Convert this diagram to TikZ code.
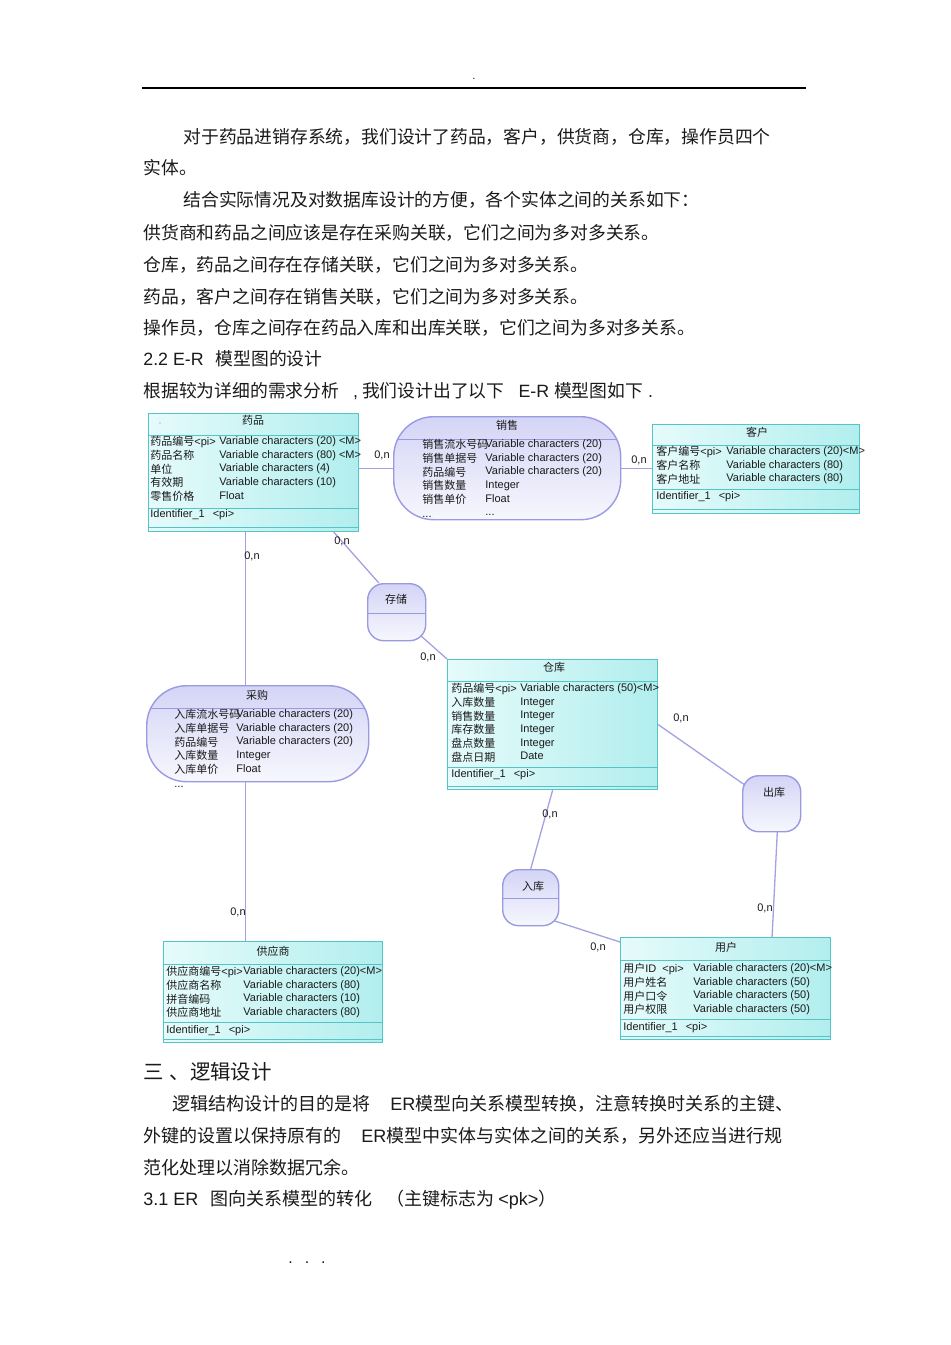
\documentclass[tikz,border=0pt]{standalone}
\usepackage{fontspec}
\setmainfont{Liberation Sans}
\newfontfamily\cjk{Noto Sans CJK SC}
\newcommand{\zht}[1]{{\cjk #1}}
\usetikzlibrary{calc}
\pgfdeclarelayer{bg}
\pgfsetlayers{bg,main}
\definecolor{entB}{HTML}{55C4C4}
\definecolor{entL}{HTML}{E6FBFB}
\definecolor{entD}{HTML}{B2EEEE}
\definecolor{relB}{HTML}{9A9AE2}
\definecolor{relL}{HTML}{D4D4F6}
\definecolor{relD}{HTML}{F7F7FE}
\definecolor{lnk}{HTML}{A2A2E2}
\definecolor{txt}{HTML}{1A1A1A}
\tikzset{
  ent/.style={draw=entB, line width=0.6pt, left color=entL, right color=entD, anchor=north west, inner sep=0},
  rel/.style={draw=relB, line width=0.7pt, top color=relL, bottom color=relD, rounded corners=20pt, anchor=north west, inner sep=0},
  rels/.style={rel, rounded corners=8pt},
  entline/.style={draw=entB, line width=0.5pt},
  relline/.style={draw=relB, line width=0.5pt},
  attr/.style={anchor=north west, inner sep=0, align=left, text=txt, font=\fontsize{5.5}{6.85}\selectfont},
  idf/.style={anchor=west, inner sep=0, text=txt, font=\fontsize{5.5}{6.6}\selectfont},
  ttl/.style={inner sep=0, text=txt, font=\cjk\fontsize{5.5}{6.6}\selectfont},
  card/.style={inner sep=0, text=txt, font=\fontsize{5.5}{6.6}\selectfont},
  lnkline/.style={draw=lnk, line width=0.65pt},
  body/.style={anchor=west, inner sep=0, text=txt, font=\cjk\fontsize{8.9}{10}\selectfont},
  lbody/.style={anchor=west, inner sep=0, text=txt, font=\fontsize{8.9}{10}\selectfont},
}
\begin{document}
\begin{tikzpicture}[x=0.5pt,y=-0.5pt]
\useasboundingbox (0,0) rectangle (950,1345);

% header rule
\coordinate (hl) at (142,88);
\coordinate (hr) at (806,88);
\draw[black, line width=0.55pt] (hl) -- (hr);
\node[card] (hdot) at (474,79) {.};

% body text top
\node[body] (t1) at (183,137) {对于药品进销存系统，我们设计了药品，客户，供货商，仓库，操作员四个};
\node[body] (t2) at (143,168) {实体。};
\node[body] (t3) at (183,200) {结合实际情况及对数据库设计的方便，各个实体之间的关系如下：};
\node[body] (t4) at (143,233) {供货商和药品之间应该是存在采购关联，它们之间为多对多关系。};
\node[body] (t5) at (143,265) {仓库，药品之间存在存储关联，它们之间为多对多关系。};
\node[body] (t6) at (143,297) {药品，客户之间存在销售关联，它们之间为多对多关系。};
\node[body] (t7) at (143,328) {操作员，仓库之间存在药品入库和出库关联，它们之间为多对多关系。};
\node[lbody] (t8) at (143,359) {2.2 E-R\hspace{6pt}\zht{模型图的设计}};
\node[lbody] (t9) at (143,391) {\zht{根据较为详细的需求分析}\hspace{7pt},\hspace{2pt}\zht{我们设计出了以下}\hspace{7pt}E-R \zht{模型图如下} .};

% ===== entities and relationships =====
% 药品
\node[ent, minimum width=105pt, minimum height=59pt] (yp) at (148,413) {};
\fill[relB!70] (160,423) circle (0.45pt);
\node[ttl] (ypt) at (253,420) {药品};
\draw[entline] (148,435) -- (358,435);
\draw[entline] (148,508) -- (358,508);
\draw[entline] (148,527) -- (358,527);
\node[attr] (ypn) at (150,436) {\zht{药品编号}<pi>\\\zht{药品名称}\\\zht{单位}\\\zht{有效期}\\\zht{零售价格}};
\node[attr] (ypy) at (219,436) {Variable characters (20) <M>\\Variable characters (80) <M>\\Variable characters (4)\\Variable characters (10)\\Float};
\node[idf] (ypi) at (150,515) {Identifier\_1\hspace{4pt}<pi>};

% 销售
\node[rel, minimum width=113.5pt, minimum height=51.5pt] (xs) at (393,416) {};
\node[ttl] (xst) at (507,425) {销售};
\draw[relline] (397,439) -- (616,439);
\node[attr] (xsn) at (422,439) {\zht{销售流水号码}\\\zht{销售单据号}\\\zht{药品编号}\\\zht{销售数量}\\\zht{销售单价}\\...};
\node[attr] (xsy) at (485,439) {Variable characters (20)\\Variable characters (20)\\Variable characters (20)\\Integer\\Float\\...};

% 客户
\node[ent, minimum width=103.5pt, minimum height=44.5pt] (kh) at (652,424) {};
\node[ttl] (kht) at (757,432) {客户};
\draw[entline] (652,445) -- (859,445);
\draw[entline] (652,489) -- (859,489);
\draw[entline] (652,509) -- (859,509);
\node[attr] (khn) at (656,446) {\zht{客户编号}<pi>\\\zht{客户名称}\\\zht{客户地址}};
\node[attr] (khy) at (726,446) {Variable characters (20)<M>\\Variable characters (80)\\Variable characters (80)};
\node[idf] (khi) at (656,497) {Identifier\_1\hspace{4pt}<pi>};

% 存储
\node[rels, minimum width=29pt, minimum height=28.5pt] (cc) at (367,583) {};
\node[ttl] (cct) at (396,599) {存储};
\draw[relline] (367,613) -- (425,613);

% 仓库
\node[ent, minimum width=105pt, minimum height=65pt] (ck) at (447,659) {};
\node[ttl] (ckt) at (554,667) {仓库};
\draw[entline] (447,681) -- (657,681);
\draw[entline] (447,767) -- (657,767);
\draw[entline] (447,786) -- (657,786);
\node[attr] (ckn) at (451,683) {\zht{药品编号}<pi>\\\zht{入库数量}\\\zht{销售数量}\\\zht{库存数量}\\\zht{盘点数量}\\\zht{盘点日期}};
\node[attr] (cky) at (520,683) {Variable characters (50)<M>\\Integer\\Integer\\Integer\\Integer\\Date};
\node[idf] (cki) at (451,775) {Identifier\_1\hspace{4pt}<pi>};

% 采购
\node[rel, minimum width=111pt, minimum height=48pt] (cg) at (146,685) {};
\node[ttl] (cgt) at (257,695) {采购};
\draw[relline] (150,708) -- (364,708);
\node[attr] (cgn) at (174,709) {\zht{入库流水号码}\\\zht{入库单据号}\\\zht{药品编号}\\\zht{入库数量}\\\zht{入库单价}\\...};
\node[attr] (cgy) at (236,709) {Variable characters (20)\\Variable characters (20)\\Variable characters (20)\\Integer\\Float};

% 出库
\node[rels, minimum width=29pt, minimum height=28pt] (chk) at (742,775) {};
\node[ttl] (chkt) at (774,792) {出库};

% 入库
\node[rels, minimum width=28pt, minimum height=28pt] (rk) at (502,869) {};
\node[ttl] (rkt) at (533,886) {入库};
\draw[relline] (502,898) -- (558,898);

% 供应商
\node[ent, minimum width=109.5pt, minimum height=50.5pt] (gys) at (163,941) {};
\node[ttl] (gyst) at (273,951) {供应商};
\draw[entline] (163,964) -- (382,964);
\draw[entline] (163,1022) -- (382,1022);
\draw[entline] (163,1039) -- (382,1039);
\node[attr] (gysn) at (166,966) {\zht{供应商编号}<pi>\\\zht{供应商名称}\\\zht{拼音编码}\\\zht{供应商地址}};
\node[attr] (gysy) at (243,966) {Variable characters (20)<M>\\Variable characters (80)\\Variable characters (10)\\Variable characters (80)};
\node[idf] (gysi) at (166,1031) {Identifier\_1\hspace{4pt}<pi>};

% 用户
\node[ent, minimum width=105pt, minimum height=51pt] (yh) at (620,937) {};
\node[ttl] (yht) at (726,947) {用户};
\draw[entline] (620,960) -- (830,960);
\draw[entline] (620,1019) -- (830,1019);
\draw[entline] (620,1036) -- (830,1036);
\node[attr] (yhn) at (623,963) {\zht{用户}ID\hspace{3pt}<pi>\\\zht{用户姓名}\\\zht{用户口令}\\\zht{用户权限}};
\node[attr] (yhy) at (693,963) {Variable characters (20)<M>\\Variable characters (50)\\Variable characters (50)\\Variable characters (50)};
\node[idf] (yhi) at (623,1028) {Identifier\_1\hspace{4pt}<pi>};

% ===== connectors =====
\coordinate (ypB) at ($(yp.south west)!0.462!(yp.south east)$);
\coordinate (ypC) at ($(yp.south west)!0.88!(yp.south east)$);
\coordinate (cgB) at ($(cg.south west)!0.446!(cg.south east)$);
\coordinate (ccA) at ($(cc.north west)!0.2!(cc.north east)$);
\coordinate (ccB) at ($(cc.center)!0.75!(cc.south east)$);
\coordinate (rkB) at ($(rk.center)!0.8!(rk.south east)$);
\coordinate (yhA) at ($(yh.north west)!0.72!(yh.north east)$);
\begin{pgfonlayer}{bg}
\fill[white] (0,0) rectangle (950,1345);
\draw[lnkline] (yp.east |- xs.west) -- (xs.west);
\draw[lnkline] (xs.east) -- (kh.west |- xs.east);
\draw[lnkline] (ypB) -- (ypB |- cg.north);
\draw[lnkline] (ypC) -- (ccA);
\draw[lnkline] (ccB) -- (ck.north west);
\draw[lnkline] (cgB) -- (cgB |- gys.north);
\draw[lnkline] (ck.east) -- (chk.center);
\draw[lnkline] ([xshift=3.5pt]chk.center) -- (yhA);
\draw[lnkline] (ck.south) -- (rk.north);
\draw[lnkline] (rkB) -- ([yshift=-2.5pt]yh.north west);
\end{pgfonlayer}

% cardinalities
\node[card] (c1) at (382,455) {0,n};
\node[card] (c2) at (639,460) {0,n};
\node[card] (c3) at (252,556) {0,n};
\node[card] (c4) at (342,541) {0,n};
\node[card] (c5) at (428,657) {0,n};
\node[card] (c6) at (238,912) {0,n};
\node[card] (c7) at (681,718) {0,n};
\node[card] (c8) at (765,908) {0,n};
\node[card] (c9) at (550,814) {0,n};
\node[card] (c10) at (598,947) {0,n};

% body text bottom
\node[body, font=\cjk\fontsize{10.2}{11}\selectfont] (b1) at (143,1072) {三\hspace{3pt}、逻辑设计};
\node[body, font=\cjk\fontsize{9}{10}\selectfont] (b2) at (172,1104) {逻辑结构设计的目的是将\hspace{10pt}{\rmfamily ER}模型向关系模型转换，注意转换时关系的主键、};
\node[body, font=\cjk\fontsize{9}{10}\selectfont] (b3) at (143,1136) {外键的设置以保持原有的\hspace{10pt}{\rmfamily ER}模型中实体与实体之间的关系，另外还应当进行规};
\node[body, font=\cjk\fontsize{9}{10}\selectfont] (b4) at (143,1168) {范化处理以消除数据冗余。};
\node[lbody, font=\fontsize{9}{10}\selectfont] (b5) at (143,1200) {3.1 ER\hspace{6pt}\zht{图向关系模型的转化}\hspace{7pt}\zht{（主键标志为}\hspace{2pt}<pk>\zht{）}};
\node[card, font=\fontsize{8}{9}\selectfont] (b6) at (307,1263) {.\hspace{6pt}.\hspace{6pt}.};
\end{tikzpicture}
\end{document}
